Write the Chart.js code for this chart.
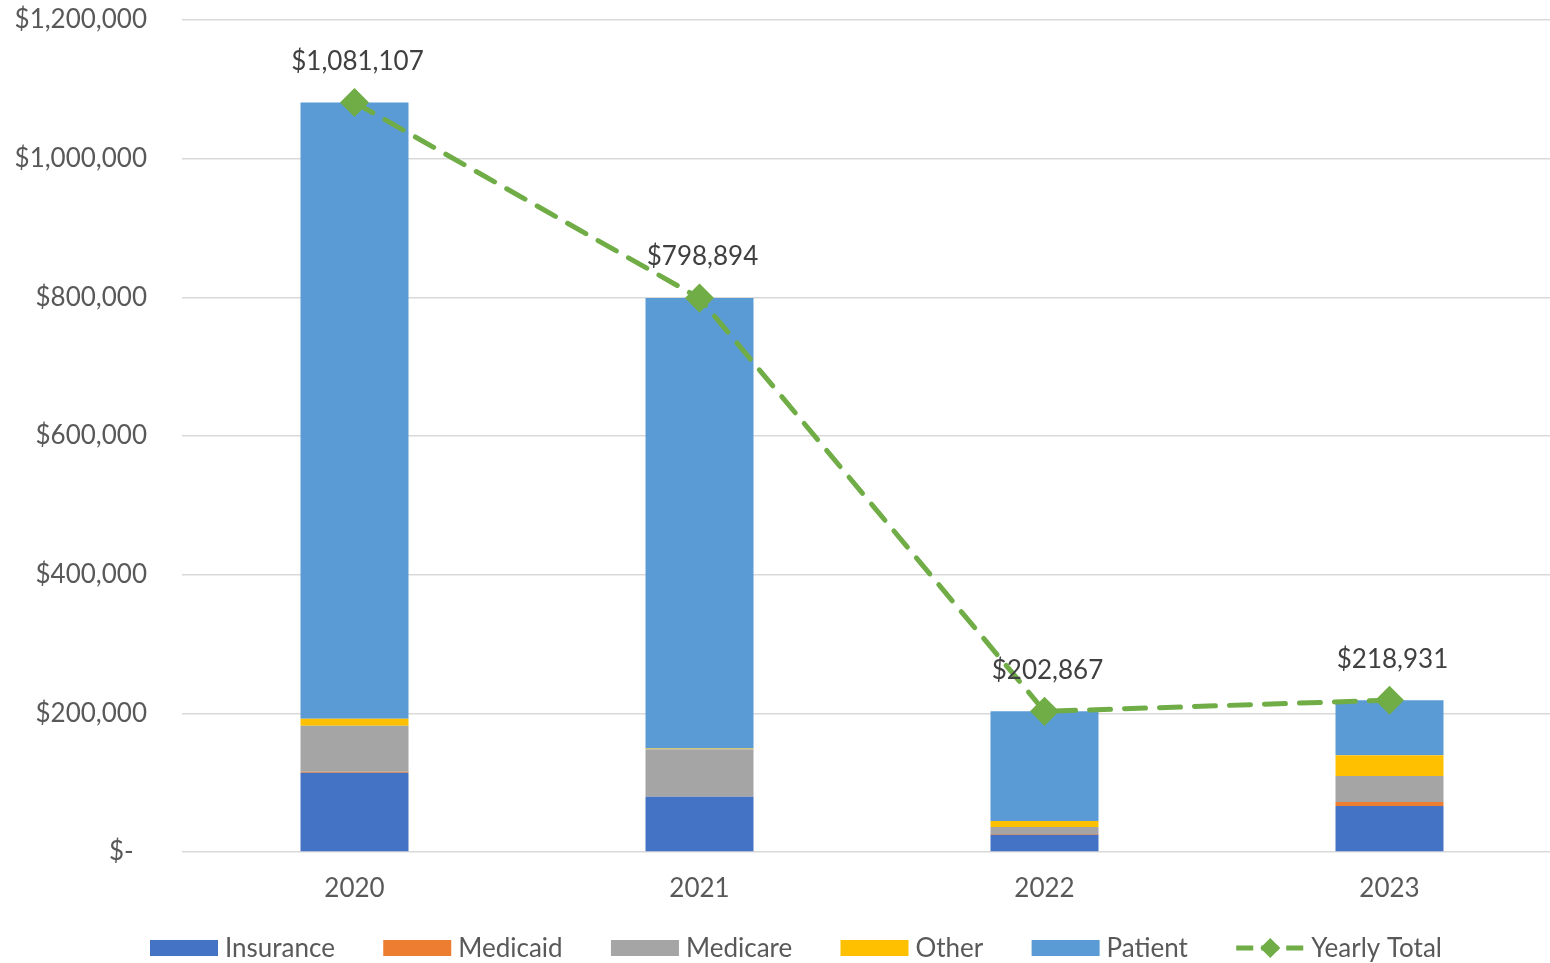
<!DOCTYPE html>
<html>
<head>
<meta charset="utf-8">
<title>Yearly Totals by Payer</title>
<script src="https://cdn.jsdelivr.net/npm/chart.js@4/dist/chart.umd.min.js"></script>
<style>
  html, body { margin: 0; padding: 0; background: #fff; overflow: hidden; }
  canvas { display: block; }
</style>
</head>
<body>
<canvas id="payerChart" width="1550" height="963"></canvas>
<script>
const years = ['2020', '2021', '2022', '2023'];
const insurance = [114400, 79800, 25000, 66300];
const medicaid = [1500, 0, 1000, 5800];
const medicare = [66300, 68300, 10000, 37500];
const other = [10100, 1200, 8700, 29800];
const patient = [888807, 649594, 158167, 79531];
const yearlyTotal = [1081107, 798894, 202867, 218931];

const FONT = 'Lato, "Open Sans", sans-serif';
const TEXT = '#595959';
const GREEN = '#70ad47';
const PLOT_OVERHANG = 12; // plot area runs this far past the canvas's right edge

function money(v) {
    if (v === 0) return '$-  ';
    return '$' + v.toLocaleString('en-US');
}

function barSet(label, data, color) {
    return {
        type: 'bar',
        label: label,
        data: data,
        backgroundColor: color,
        stack: 'payers',
        categoryPercentage: 1,
        barPercentage: 0.313,
        order: 1
    };
}

// stretch the plot area (and x scale) past the right edge
const overhang = {
    id: 'overhang',
    afterLayout(chart) {
        const x = chart.scales.x;
        chart.chartArea.right += PLOT_OVERHANG;
        chart.chartArea.width += PLOT_OVERHANG;
        x.right += PLOT_OVERHANG;
        x.width += PLOT_OVERHANG;
        x.configure();
        const y = chart.scales.y;
        y.configure();
    }
};

// value labels above the total line markers
const totalLabels = {
    id: 'totalLabels',
    afterDatasetsDraw(chart) {
        const idx = chart.data.datasets.findIndex(d => d.type === 'line');
        const meta = chart.getDatasetMeta(idx);
        const ctx = chart.ctx;
        ctx.save();
        ctx.font = '26px ' + FONT;
        ctx.fillStyle = '#404040';
        ctx.textAlign = 'center';
        ctx.textBaseline = 'middle';
        meta.data.forEach((pt, i) => {
            ctx.fillText(money(yearlyTotal[i]), pt.x + 3, pt.y - 41);
        });
        ctx.restore();
    }
};

// legend row along the bottom, spread between fixed left/right ends
const bottomLegend = {
    id: 'bottomLegend',
    afterDraw(chart) {
        const ctx = chart.ctx;
        const items = chart.data.datasets;
        const boxW = 68, boxH = 16, textGap = 7;
        const left = 150, right = 1442, y = 948;
        ctx.save();
        ctx.font = '26px ' + FONT;
        ctx.textBaseline = 'middle';
        const widths = items.map(d => boxW + textGap + ctx.measureText(d.label).width);
        const used = widths.reduce((a, b) => a + b, 0);
        const itemGap = (right - left - used) / (items.length - 1);
        let x = left;
        items.forEach((d, i) => {
            if (d.type === 'line') {
                ctx.strokeStyle = GREEN;
                ctx.lineWidth = 5;
                ctx.setLineDash([17, 8]);
                ctx.beginPath();
                ctx.moveTo(x, y);
                ctx.lineTo(x + boxW, y);
                ctx.stroke();
                ctx.setLineDash([]);
                ctx.fillStyle = GREEN;
                ctx.beginPath();
                const cx = x + boxW / 2, r = 10;
                ctx.moveTo(cx, y - r);
                ctx.lineTo(cx + r, y);
                ctx.lineTo(cx, y + r);
                ctx.lineTo(cx - r, y);
                ctx.closePath();
                ctx.fill();
            } else {
                ctx.fillStyle = d.backgroundColor;
                ctx.fillRect(x, y - boxH / 2, boxW, boxH);
            }
            ctx.fillStyle = TEXT;
            ctx.textAlign = 'left';
            ctx.fillText(d.label, x + boxW + textGap, y + 1);
            x += widths[i] + itemGap;
        });
        ctx.restore();
    }
};

new Chart(document.getElementById('payerChart'), {
    data: {
        labels: years,
        datasets: [
            barSet('Insurance', insurance, '#4472c4'),
            barSet('Medicaid', medicaid, '#ed7d31'),
            barSet('Medicare', medicare, '#a5a5a5'),
            barSet('Other', other, '#ffc000'),
            barSet('Patient', patient, '#5b9bd5'),
            {
                type: 'line',
                label: 'Yearly Total',
                data: yearlyTotal,
                stack: 'total',
                borderColor: GREEN,
                borderWidth: 5,
                borderDash: [21, 14],
                borderCapStyle: 'round',
                tension: 0,
                clip: false,
                pointStyle: 'rectRot',
                pointRadius: 11,
                pointBackgroundColor: GREEN,
                pointBorderColor: GREEN,
                order: 0
            }
        ]
    },
    options: {
        responsive: false,
        animation: false,
        layout: { autoPadding: false, padding: { top: 20, right: 0, bottom: 51, left: 0 } },
        plugins: {
            legend: { display: false },
            tooltip: { enabled: false }
        },
        scales: {
            x: {
                stacked: true,
                offset: true,
                grid: { display: false, drawTicks: false },
                border: { display: false },
                ticks: { color: TEXT, font: { family: FONT, size: 26 }, padding: 21 },
                afterFit(scale) {
                    scale.height = 60;
                    scale.paddingLeft = 0;
                    scale.paddingRight = 0;
                }
            },
            y: {
                stacked: true,
                min: 0,
                max: 1200000,
                grid: { color: '#d9d9d9', lineWidth: 1.5, drawTicks: false },
                border: { display: false },
                ticks: {
                    stepSize: 200000,
                    padding: 35,
                    color: TEXT,
                    font: { family: FONT, size: 26 },
                    callback: v => money(v)
                },
                afterFit(scale) {
                    scale.width = 182;
                    scale.paddingTop = 0;
                    scale.paddingBottom = 0;
                }
            }
        }
    },
    plugins: [overhang, totalLabels, bottomLegend]
});
</script>
</body>
</html>
